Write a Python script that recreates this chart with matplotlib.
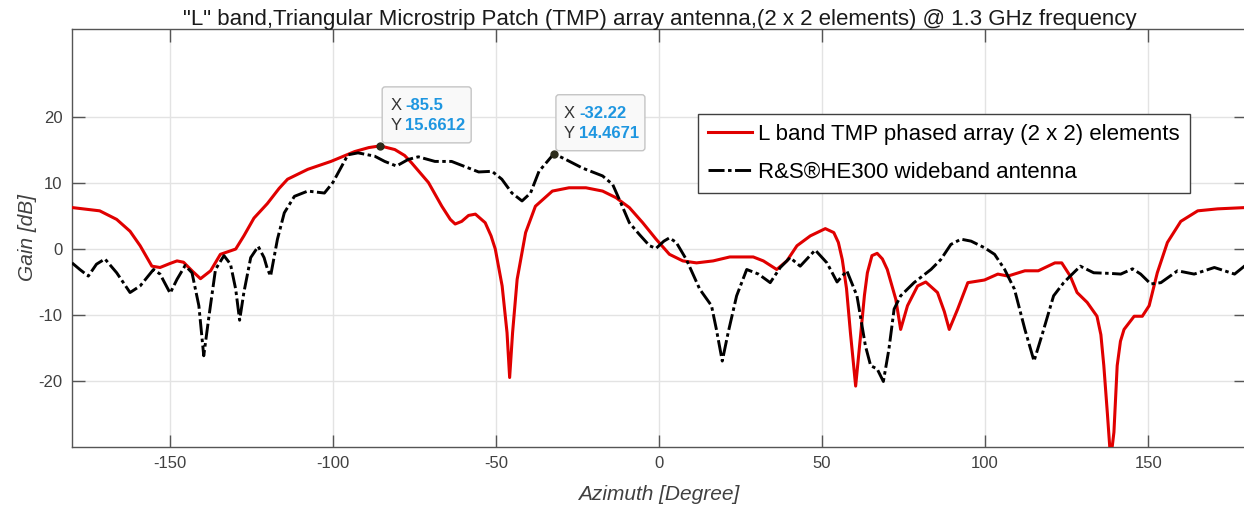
import matplotlib
matplotlib.use("Agg")
import matplotlib.pyplot as plt
import matplotlib.transforms as mtransforms
from matplotlib.patches import FancyBboxPatch

# Red curve: L band TMP phased array (2 x 2)
tmp_az = [-180, -171.5, -166.3, -162.2, -159.1, -155.5, -153, -150, -147.8, -145.8,
          -143.2, -140.6, -137.5, -134.5, -129.8, -127.3, -124.2, -120.1, -116.5, -113.9,
          -107.7, -100.6, -93.3, -89, -85.5, -81, -78, -75.9, -70.7, -66.6,
          -64, -62.5, -60.5, -58.4, -56.3, -53.3, -51.5, -50.2, -48.1, -46.6,
          -45.8, -44.9, -43.5, -40.9, -37.9, -32.7, -27.6, -22.4, -17.3, -13.2,
          -9.1, -5.0, -0.9, 3.2, 7.3, 11.5, 16.6, 21.7, 28.9, 32,
          36.1, 39.2, 42.3, 46.4, 51, 53.6, 55, 56.2, 57.5, 58.7,
          60.3, 61.8, 63, 63.9, 65.3, 66.9, 68.5, 70, 72.6, 74.1,
          76.2, 79.3, 81.8, 85.4, 87.5, 89, 91.6, 94.7, 99.8, 103.9,
          107, 112.2, 116.3, 121.4, 123.5, 126.1, 128.2, 131.3, 134.3, 135.5,
          136.4, 137.5, 138.5, 139.5, 140.5, 141.5, 142.6, 145.7, 148.2, 150.3,
          152.8, 155.9, 160, 165.2, 171.3, 180]
tmp_gain = [6.3, 5.8, 4.5, 2.7, 0.5, -2.6, -2.8, -2.2, -1.8, -2.0,
            -3.3, -4.5, -3.3, -0.8, 0.0, 2.0, 4.7, 6.9, 9.2, 10.6,
            12.1, 13.3, 14.8, 15.4, 15.66, 15.1, 14.2, 13.1, 10.1, 6.5,
            4.5, 3.8, 4.2, 5.1, 5.3, 4.0, 2.0, 0.0, -5.6, -12.7,
            -19.5, -12.7, -4.6, 2.5, 6.5, 8.8, 9.3, 9.3, 8.8, 7.8,
            6.3, 4.0, 1.5, -0.8, -1.8, -2.1, -1.8, -1.2, -1.2, -1.8,
            -3.1, -1.8, 0.5, 2.0, 3.1, 2.5, 1.0, -1.6, -6.0, -12.7,
            -20.8, -13.2, -7.0, -3.6, -1.0, -0.65, -1.5, -3.1, -7.6, -12.2,
            -8.6, -5.6, -5.0, -6.6, -9.5, -12.2, -9.1, -5.1, -4.7, -3.8,
            -4.1, -3.3, -3.3, -2.1, -2.1, -4.1, -6.6, -8.1, -10.2, -13.0,
            -17.7, -25.0, -32.0, -27.8, -17.7, -14.0, -12.2, -10.2, -10.2, -8.6,
            -3.6, 1.0, 4.2, 5.8, 6.1, 6.3]

# Black curve: R&S HE300 wideband antenna
he300_az = [-180, -177.6, -175, -172.5, -169.9, -166.3, -162.2, -159.1, -155, -153,
            -149.9, -147.8, -145.3, -143.2, -141.1, -139.6, -138, -136, -133.4, -131.4,
            -129.8, -128.6, -127.3, -125.2, -122.9, -121.1, -120.1, -119.1, -117, -114.9,
            -111.8, -107.7, -102.6, -100, -95.4, -92.3, -87.2, -84.1, -80.5, -76.9,
            -73.8, -68.7, -63.6, -58.4, -55.3, -51.2, -48.2, -45.1, -42, -39.4,
            -36.8, -32.22, -28.6, -23.5, -17.3, -14.2, -11.7, -9.1, -6, -2.9,
            -0.9, 1.5, 3.2, 5.3, 8.4, 12.5, 16.1, 17.6, 19.4, 21.2,
            23.8, 26.9, 30.5, 34.1, 37.2, 40.2, 43.3, 47.9, 51.5, 54.6,
            57.6, 60.7, 63.3, 64.9, 66.9, 68.8, 70.5, 72.1, 74.1, 78.2,
            83.4, 86.4, 89.5, 92.6, 95.7, 99.8, 102.9, 106, 109, 112.2,
            115, 117.6, 121, 124.1, 126.1, 129.2, 133.3, 138.5, 141.6, 145.2,
            147.7, 150.8, 153.9, 159, 164.1, 170.3, 176.5, 180]
he300_gain = [-2.1, -3.1, -4.1, -2.3, -1.5, -3.6, -6.6, -5.6, -3.1, -3.8,
              -6.7, -4.6, -2.5, -3.6, -8.6, -16.2, -10.2, -3.1, -1.0, -2.3,
              -6.1, -10.8, -6.6, -1.3, 0.4, -1.3, -3.0, -4.1, 1.5, 5.5,
              8.0, 8.8, 8.5, 10.1, 14.3, 14.6, 14.1, 13.3, 12.6, 13.6,
              14.0, 13.3, 13.3, 12.3, 11.7, 11.8, 10.6, 8.5, 7.3, 8.5,
              11.8, 14.47, 13.6, 12.3, 11.1, 9.8, 7.0, 4.0, 2.2, 0.5,
              0.1, 1.2, 1.7, 1.0, -1.6, -6.1, -8.6, -12.2, -17.0, -12.7,
              -7.1, -3.1, -3.8, -5.1, -2.8, -1.3, -2.6, -0.15, -2.1, -5.0,
              -3.3, -7.1, -14.7, -17.7, -18.2, -20.1, -15.2, -9.1, -7.1, -5.1,
              -3.1, -1.6, 0.7, 1.5, 1.2, 0.2, -0.8, -3.1, -6.1, -12.2,
              -17.0, -12.8, -7.1, -5.1, -4.1, -2.6, -3.6, -3.7, -3.8, -3.0,
              -3.8, -5.3, -5.1, -3.3, -3.8, -2.8, -3.8, -2.4]

# data tips
tip_x = [-85.5, -32.22]
tip_y = [15.6612, 14.4671]
tip_xlabel = ["-85.5", "-32.22"]
tip_ylabel = ["15.6612", "14.4671"]

title = '"L" band,Triangular Microstrip Patch (TMP) array antenna,(2 x 2 elements) @ 1.3 GHz frequency'

plt.rcParams["font.family"] = ["Liberation Sans", "DejaVu Sans"]
plt.rcParams["axes.unicode_minus"] = False

fig = plt.figure(figsize=(12.44, 5.09), dpi=100)
ax = fig.add_axes([72 / 1244, 1 - 446.7 / 509, 1174 / 1244, (446.7 - 29) / 509])

ax.plot(tmp_az, tmp_gain, color="#e00000", lw=2.2, solid_joinstyle="round",
        label="L band TMP phased array (2 x 2) elements", zorder=3)
ax.plot(he300_az, he300_gain, color="black", lw=2.1, linestyle=(0, (5.5, 1.2, 1.2, 1.2)),
        dash_joinstyle="round", label="R&S\u00aeHE300 wideband antenna", zorder=4)

ax.set_xlim(-180, 180)
ax.set_ylim(-30, 33.4)
ax.set_xticks([-150, -100, -50, 0, 50, 100, 150])
ax.set_yticks([-20, -10, 0, 10, 20])
ax.grid(True, color="#e3e3e3", lw=1.0)
ax.set_axisbelow(True)
ax.tick_params(direction="in", length=9, width=1, color="#555555",
               labelcolor="#404040", labelsize=12, top=True, right=True, pad=7)
for s in ax.spines.values():
    s.set_color("#555555")
    s.set_linewidth(1.0)

ax.set_xlabel("Azimuth [Degree]", fontsize=15, style="italic", color="#404040", labelpad=10)
ax.set_ylabel("Gain [dB]", fontsize=15, style="italic", color="#404040", labelpad=1)
fig.text(660 / 1244, 1 - 19 / 509, title, ha="center", va="center", fontsize=16,
         color="#1a1a1a")

leg = ax.legend(loc="upper right", bbox_to_anchor=(0.952, 0.7965), fontsize=16,
                fancybox=False, framealpha=1, edgecolor="#404040", handlelength=2.0,
                borderpad=0.45, labelspacing=0.75, handletextpad=0.25, borderaxespad=0)
leg.get_frame().set_linewidth(1.0)

# data tips (offsets in inches from the data point)
for x0, y0, xs, ys in zip(tip_x, tip_y, tip_xlabel, tip_ylabel):
    t = fig.dpi_scale_trans + mtransforms.ScaledTranslation(x0, y0, ax.transData)
    box = FancyBboxPatch((0.02, 0.03), 0.89, 0.56, boxstyle="round,pad=0,rounding_size=0.03",
                         transform=t, facecolor="#f9f9f9", edgecolor="#c4c4c4", lw=1.0, zorder=6)
    ax.add_patch(box)
    ax.text(0.10, 0.40, "X", transform=t, fontsize=12, color="#333333", va="center", zorder=7)
    ax.text(0.25, 0.40, xs, transform=t, fontsize=12, color="#1e96e0", weight="bold",
            va="center", zorder=7)
    ax.text(0.10, 0.20, "Y", transform=t, fontsize=12, color="#333333", va="center", zorder=7)
    ax.text(0.25, 0.20, ys, transform=t, fontsize=12, color="#1e96e0", weight="bold",
            va="center", zorder=7)
    ax.plot([x0], [y0], "o", ms=5, color="#2b2b1a", zorder=8)

fig.savefig("out.png", dpi=100)
